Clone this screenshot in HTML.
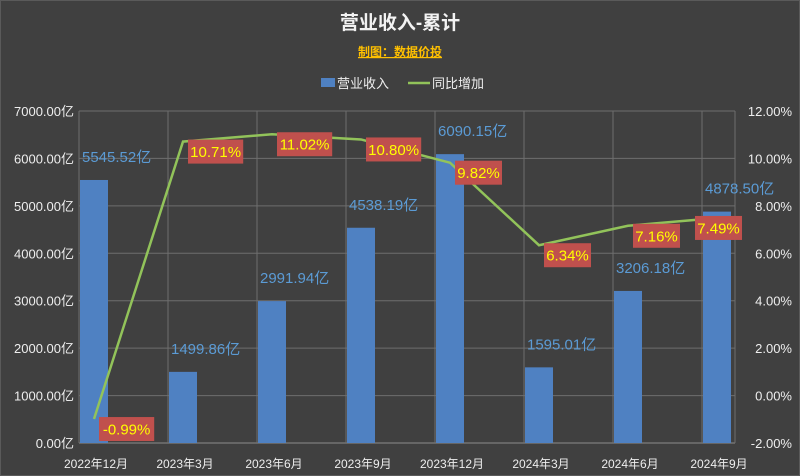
<!DOCTYPE html>
<html><head><meta charset="utf-8"><style>
html,body{margin:0;padding:0;background:#404040;}
svg{display:block;font-family:"Liberation Sans","Noto Sans CJK SC",sans-serif;}
</style></head><body>
<svg id="chart" width="800" height="476">
<rect x="0.5" y="0.5" width="799" height="475" fill="#404040" stroke="#5a5a5a"/>
<text x="400" y="29" text-anchor="middle" fill="#f2f2f2" font-size="19" font-weight="bold">营业收入-累计</text>
<text x="400" y="56" text-anchor="middle" fill="#ffc000" font-size="12" font-weight="bold" text-decoration="underline">制图：数据价投</text>
<g>
<rect x="321" y="78" width="14" height="9" fill="#4f81c2"/>
<text x="337" y="88" fill="#eee" font-size="13">营业收入</text>
<line x1="408" y1="83" x2="430" y2="83" stroke="#92c35a" stroke-width="2.5"/>
<text x="432" y="88" fill="#eee" font-size="13">同比增加</text>
</g>
<g id="grid"></g><g id="bars"></g><g id="line"></g><g id="labels"></g><g id="axes"></g>
</svg>
<script>
const categories=["2022年12月","2023年3月","2023年6月","2023年9月","2023年12月","2024年3月","2024年6月","2024年9月"];
const revenue=[5545.52,1499.86,2991.94,4538.19,6090.15,1595.01,3206.18,4878.50];
const revenueLabels=["5545.52亿","1499.86亿","2991.94亿","4538.19亿","6090.15亿","1595.01亿","3206.18亿","4878.50亿"];
const yoy=[-0.99,10.71,11.02,10.80,9.82,6.34,7.16,7.49];
const leftTicks=[0,1000,2000,3000,4000,5000,6000,7000];
const rightTicks=[-2,0,2,4,6,8,10,12];

const NS="http://www.w3.org/2000/svg";
const X0=79,STEP=89,XEND=735,YT=111,YB=443;
const xBand=i=>X0+i*STEP;
const xC=i=>xBand(i)+15;
const yL=v=>YB-(v-0)/7000*(YB-YT);
const yR=v=>YB-(v+2)/14*(YB-YT);
function mk(tag,attrs,parent,txt){const e=document.createElementNS(NS,tag);for(const k in attrs)e.setAttribute(k,attrs[k]);if(txt!==undefined)e.textContent=txt;document.getElementById(parent).appendChild(e);return e;}

leftTicks.forEach((t,i)=>{
  const g=mk('line',{x1:X0,x2:XEND,y1:yL(t),y2:yL(t),stroke:i===0?'#8c8c8c':'#6e6e6e','stroke-width':1},'grid');
  
  
  const l=mk('text',{x:X0-5,y:yL(t)+5,'text-anchor':'end',fill:'#eee','font-size':13},'axes',t.toFixed(2)+'亿');
  
  
});
rightTicks.forEach(t=>{
  const l=mk('text',{x:792,y:yR(t)+5,'text-anchor':'end',fill:'#eee','font-size':13},'axes',t.toFixed(2)+'%');
  
  
});
for(let i=0;i<=categories.length;i++){
  const x=i<categories.length?xBand(i):XEND;
  const v=mk('line',{x1:x,x2:x,y1:YT,y2:YB,stroke:'#6e6e6e'},'grid');
  
  
}
categories.forEach((c,i)=>{
  const l=mk('text',{x:xC(i)+2,y:468,'text-anchor':'middle',fill:'#eee','font-size':12},'axes',c);
  
  
});
revenue.forEach((v,i)=>{
  const b=mk('rect',{x:xC(i)-14,y:yL(v),width:28,height:YB-yL(v),fill:'#4f81c2'},'bars');
  
  
});
const pts=yoy.map((v,i)=>xC(i)+','+yR(v)).join(' ');
const pl=mk('polyline',{points:pts,fill:'none',stroke:'#92c35a','stroke-width':2.5},'line');


revenue.forEach((v,i)=>{
  const t=mk('text',{x:xC(i)-12,y:yL(v)-18,'text-anchor':'start',fill:'#5b9bd5','font-size':15},'labels',revenueLabels[i]);
  
  
});
yoy.forEach((v,i)=>{
  const s=v.toFixed(2)+'%';
  const w=s.length*8.2+6;
  const cy=Math.min(yR(v)+10,453);
  const x=xC(i)+(i===yoy.length-1?-22:5);
  const bx=mk('rect',{x:x,y:cy-12,width:w,height:24,fill:'#c0504d'},'labels');
  
  
  const t=mk('text',{x:x+w/2,y:cy+5.5,'text-anchor':'middle',fill:'#ffff00','font-size':15},'labels',s);
  
  
});
</script>
</body></html>
